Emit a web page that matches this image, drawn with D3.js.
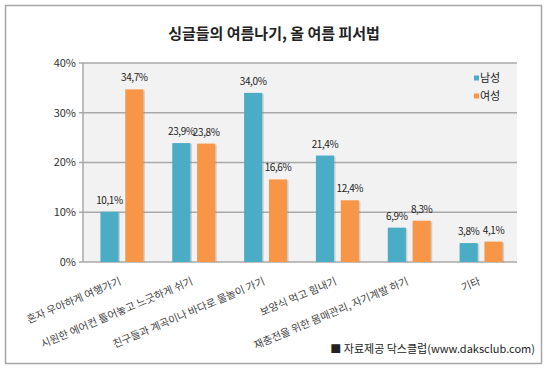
<!DOCTYPE html>
<html>
<head>
<meta charset="utf-8">
<script src="https://cdn.jsdelivr.net/npm/d3@7"></script>
<style>
  html, body { margin: 0; padding: 0; background: #fff; }
  svg { display: block; font-family: "Noto Sans CJK KR", "Noto Sans", sans-serif; }
</style>
</head>
<body>
<svg id="chart" width="550" height="368"></svg>
<script>
// data
const categories = [
  '혼자 우아하게 여행가기',
  '시원한 에어컨 틀어놓고 느긋하게 쉬기',
  '친구들과 계곡이나 바다로 물놀이 가기',
  '보양식 먹고 힘내기',
  '재충전을 위한 몸매관리, 자기계발 하기',
  '기타'
]
const seriesNames = ['남성', '여성']
const male = [10.1, 23.9, 34.0, 21.4, 6.9, 3.8]
const female = [34.7, 23.8, 16.6, 12.4, 8.3, 4.1]
const yTicks = [0, 10, 20, 30, 40]

const colors = { '남성': '#4bacc6', '여성': '#f79646' }
const values = { '남성': male, '여성': female }

const svg = d3.select('#chart')

// frame
svg.append('rect')
  .attr('x', 5.5).attr('y', 5.5).attr('width', 536).attr('height', 358)
  .attr('fill', '#fff').attr('stroke', '#a6a6a6').attr('stroke-width', 1.5)

svg.append('text')
  .attr('x', 274).attr('y', 39)
  .attr('text-anchor', 'middle')
  .style('font-size', '15px').style('font-weight', 'bold').style('fill', '#222')
  .text('싱글들의 여름나기, 올 여름 피서법')

const plot = { left: 83, right: 517, top: 63, bottom: 262 }

const y = d3.scaleLinear().domain([0, 40]).range([plot.bottom, plot.top])
const x = d3.scaleBand().domain(d3.range(categories.length)).range([plot.left + 3, plot.right])
const xs = d3.scaleBand().domain(seriesNames)
  .range([x.bandwidth() / 2 - 21.5, x.bandwidth() / 2 + 21.5]).paddingInner(0.27)

// plot background
svg.append('rect')
  .attr('x', plot.left).attr('y', plot.top)
  .attr('width', plot.right - plot.left).attr('height', plot.bottom - plot.top)
  .attr('fill', '#f2f2f2')

// gridlines + y axis ticks
const grid = svg.append('g')
grid.selectAll('line.grid').data(yTicks).join('line')
  .attr('class', 'grid')
  .attr('x1', plot.left - 4).attr('x2', plot.right)
  .attr('y1', d => y(d)).attr('y2', d => y(d))
  .attr('stroke', '#a9a9a9').attr('stroke-width', 1.5)
grid.append('line')
  .attr('x1', plot.left).attr('x2', plot.left)
  .attr('y1', plot.top).attr('y2', plot.bottom)
  .attr('stroke', '#a9a9a9').attr('stroke-width', 1.5)
grid.selectAll('text').data(yTicks).join('text')
  .attr('x', plot.left - 7).attr('y', d => y(d))
  .attr('dy', '0.35em').attr('text-anchor', 'end')
  .style('font-size', '11px').style('fill', '#333')
  .text(d => d + '%')

// bars
const fmt = v => d3.format('.1f')(v).replace('.', ',') + '%'
const groups = svg.append('g').selectAll('g').data(categories).join('g')
  .attr('transform', (d, i) => `translate(${x(i)},0)`)

seriesNames.forEach(s => {
  groups.append('rect')
    .attr('x', (d, i) => xs(s) + 1.5)
    .attr('y', (d, i) => y(values[s][i]) + 1)
    .attr('width', xs.bandwidth())
    .attr('height', (d, i) => plot.bottom - y(values[s][i]) - 1)
    .attr('fill', 'rgba(120,120,120,0.28)')
  groups.append('rect')
    .attr('x', xs(s))
    .attr('y', (d, i) => y(values[s][i]))
    .attr('width', xs.bandwidth())
    .attr('height', (d, i) => plot.bottom - y(values[s][i]))
    .attr('fill', colors[s])
  groups.append('text')
    .attr('x', xs(s) + xs.bandwidth() / 2)
    .attr('y', (d, i) => y(values[s][i]) - 8)
    .attr('text-anchor', 'middle')
    .style('font-size', '10px').style('letter-spacing', '-0.4px').style('fill', '#222')
    .text((d, i) => fmt(values[s][i]))
})

// category labels, slanted
svg.append('g').selectAll('text').data(categories).join('text')
  .attr('transform', (d, i) => `translate(${x(i) + x.bandwidth() / 2},284) rotate(-23)`)
  .attr('text-anchor', 'end')
  .style('font-size', '10.5px').style('fill', '#444')
  .text(d => d)

// legend
const legend = svg.append('g').selectAll('g').data(seriesNames).join('g')
  .attr('transform', (d, i) => `translate(474,${78 + i * 18})`)
legend.append('rect')
  .attr('x', 0).attr('y', -2.5).attr('width', 5).attr('height', 5)
  .attr('fill', d => colors[d])
legend.append('text')
  .attr('x', 6).attr('dy', '0.35em')
  .style('font-size', '11px').style('fill', '#222')
  .text(d => d)

// source
svg.append('text')
  .attr('x', 535).attr('y', 353).attr('text-anchor', 'end')
  .style('font-size', '11px').style('fill', '#222')
  .text('■ 자료제공 닥스클럽(www.daksclub.com)')
</script>
</body>
</html>
